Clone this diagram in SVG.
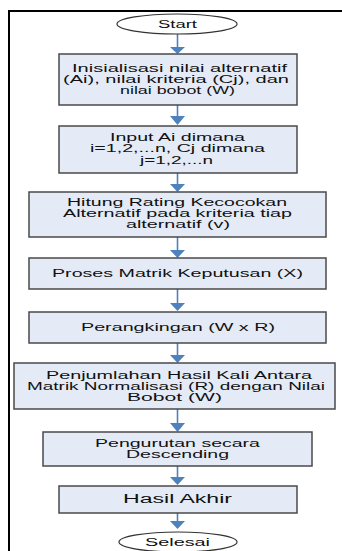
<svg xmlns="http://www.w3.org/2000/svg" width="342" height="551" viewBox="0 0 342 551">
<style>
.box{fill:#E4EBF6;stroke:#4a4a4a;stroke-width:1.5}
.term{fill:#fff;stroke:#333;stroke-width:1.2}
.t{font-family:"Liberation Sans",Arial,sans-serif;font-size:10px;fill:#111}
.tb{font-family:"Liberation Sans",Arial,sans-serif;font-size:12px;fill:#111}
.ln{stroke:#4F81BD;stroke-width:1.6;fill:none}
.hd{fill:#4F81BD}
</style>
<path d="M9,551 V11 H342" fill="none" stroke="#000" stroke-width="2"/>
<g id="connectors">
<line class="ln" x1="177.5" y1="34" x2="177.5" y2="48"/><polygon class="hd" points="170,47 185,47 177.5,54"/>
<line class="ln" x1="177.5" y1="105" x2="177.5" y2="117"/><polygon class="hd" points="170,116 185,116 177.5,125"/>
<line class="ln" x1="177.5" y1="173" x2="177.5" y2="185"/><polygon class="hd" points="170,184 185,184 177.5,192"/>
<line class="ln" x1="177.5" y1="237" x2="177.5" y2="251"/><polygon class="hd" points="170,250 185,250 177.5,258"/>
<line class="ln" x1="177.5" y1="289" x2="177.5" y2="304"/><polygon class="hd" points="170,303 185,303 177.5,311"/>
<line class="ln" x1="177.5" y1="343" x2="177.5" y2="356"/><polygon class="hd" points="170,355 185,355 177.5,363"/>
<line class="ln" x1="177.5" y1="409" x2="177.5" y2="424"/><polygon class="hd" points="170,423 185,423 177.5,432"/>
<line class="ln" x1="177.5" y1="466" x2="177.5" y2="478"/><polygon class="hd" points="170,477 185,477 177.5,485"/>
<line class="ln" x1="177.5" y1="513" x2="177.5" y2="522"/><polygon class="hd" points="170,521 185,521 177.5,529"/>
</g>
<g id="start">
<ellipse class="term" cx="177" cy="24" rx="60" ry="10"/>
<text class="t" x="158" y="28" textLength="39" lengthAdjust="spacingAndGlyphs">Start</text>
</g>
<g id="n1">
<rect class="box" x="59" y="54" width="238" height="51"/>
<text class="t" x="72" y="72" textLength="215" lengthAdjust="spacingAndGlyphs">Inisialisasi nilai alternatif</text>
<text class="t" x="63" y="83" textLength="226" lengthAdjust="spacingAndGlyphs">(Ai), nilai kriteria (Cj), dan</text>
<text class="t" x="120" y="94" textLength="115" lengthAdjust="spacingAndGlyphs">nilai bobot (W)</text>
</g>
<g id="n2">
<rect class="box" x="59" y="126" width="238" height="47"/>
<text class="t" x="110" y="141" textLength="135" lengthAdjust="spacingAndGlyphs">Input Ai dimana</text>
<text class="t" x="90" y="152" textLength="175" lengthAdjust="spacingAndGlyphs">i=1,2,...n, Cj dimana</text>
<text class="t" x="140" y="164" textLength="73" lengthAdjust="spacingAndGlyphs">j=1,2,...n</text>
</g>
<g id="n3">
<rect class="box" x="29" y="192" width="297" height="45"/>
<text class="t" x="67" y="206" textLength="220" lengthAdjust="spacingAndGlyphs">Hitung Rating Kecocokan</text>
<text class="t" x="63" y="217" textLength="229" lengthAdjust="spacingAndGlyphs">Alternatif pada kriteria tiap</text>
<text class="t" x="126" y="228" textLength="104" lengthAdjust="spacingAndGlyphs">alternatif (v)</text>
</g>
<g id="n4">
<rect class="box" x="29" y="258" width="297" height="31"/>
<text class="t" x="52" y="277" textLength="251" lengthAdjust="spacingAndGlyphs">Proses Matrik Keputusan (X)</text>
</g>
<g id="n5">
<rect class="box" x="29" y="312" width="297" height="31"/>
<text class="t" x="81" y="331" textLength="194" lengthAdjust="spacingAndGlyphs">Perangkingan (W x R)</text>
</g>
<g id="n6">
<rect class="box" x="14" y="363" width="321" height="46"/>
<text class="t" x="46" y="379" textLength="266" lengthAdjust="spacingAndGlyphs">Penjumlahan Hasil Kali Antara</text>
<text class="t" x="27" y="390" textLength="298" lengthAdjust="spacingAndGlyphs">Matrik Normalisasi (R) dengan Nilai</text>
<text class="t" x="127" y="401" textLength="95" lengthAdjust="spacingAndGlyphs">Bobot (W)</text>
</g>
<g id="n7">
<rect class="box" x="43" y="432" width="269" height="34"/>
<text class="t" x="95" y="447" textLength="165" lengthAdjust="spacingAndGlyphs">Pengurutan secara</text>
<text class="t" x="126" y="458" textLength="103" lengthAdjust="spacingAndGlyphs">Descending</text>
</g>
<g id="n8">
<rect class="box" x="59" y="486" width="238" height="27"/>
<text class="tb" x="123" y="503" textLength="109" lengthAdjust="spacingAndGlyphs">Hasil Akhir</text>
</g>
<g id="end">
<ellipse class="term" cx="178" cy="542" rx="59" ry="10"/>
<text class="t" x="145" y="546" textLength="65" lengthAdjust="spacingAndGlyphs">Selesai</text>
</g>
</svg>
